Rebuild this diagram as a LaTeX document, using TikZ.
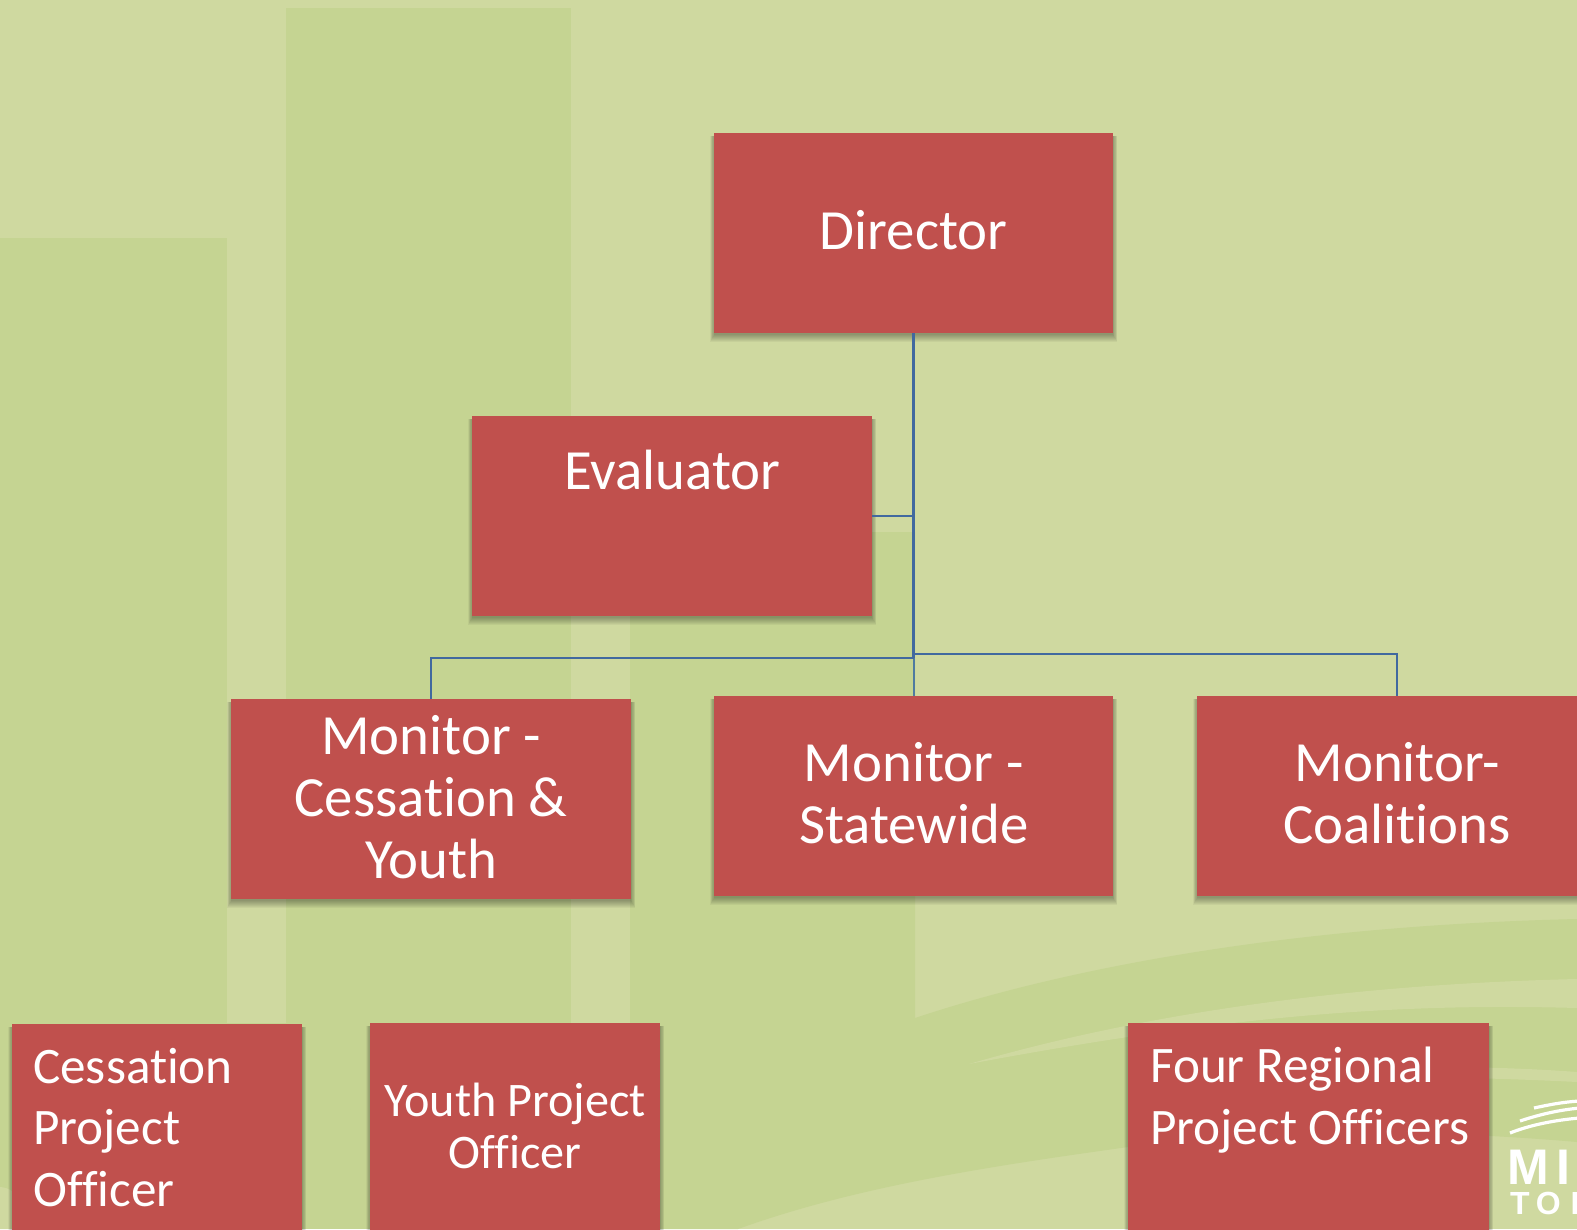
\documentclass[tikz,border=0pt]{standalone}
\usepackage{fontspec}
\setmainfont{Carlito}[Ligatures=NoCommon]
\newfontfamily\logofont{Liberation Sans}[UprightFont=* Bold]
\definecolor{bglight}{HTML}{CFD9A0}
\definecolor{bgdark}{HTML}{C5D492}
\definecolor{boxred}{HTML}{C0504D}
\definecolor{linkblue}{HTML}{41699F}
\definecolor{linkthin}{HTML}{4F7BA0}
\pgfdeclarelayer{backlayer}
\pgfdeclarelayer{shadelayer}
\pgfsetlayers{backlayer,shadelayer,main}
\tikzset{
  boxnode/.style={rectangle,fill=boxred,inner sep=0pt,anchor=north west},
  softlayer/.style={fill=black,fill opacity=0.042,draw=none},
  labelnode/.style={inner sep=0pt,text=white,align=center,font=\fontsize{56.8}{62}\selectfont},
  link/.style={draw=linkblue,line width=2.5pt},
  linkfine/.style={draw=linkthin,line width=1.8pt},
  panel/.style={fill=bgdark,draw=none},
  streak/.style={fill=bglight,draw=none},
  logostroke/.style={draw=white,line width=3.2pt}
}
\begin{document}
\begin{tikzpicture}[x=1pt,y=-1pt]
\useasboundingbox (0,0) rectangle (1577,1229);
\begin{pgfonlayer}{backlayer}
\fill[bglight] (0,0) rectangle (1577,1229);
% background panels
\fill[panel] (0,238) rectangle (227,1229);
\fill[panel] (286,8) rectangle (571,1229);
\fill[panel] (571,1023) rectangle (630,1229);
\fill[panel] (227,1023) rectangle (286,1229);
% third panel merging into the sweeping band
\fill[panel] (630,532) -- (915,532) -- (915,1018) .. controls (1090,960) and (1320,925) .. (1577,919)
  -- (1577,1142) .. controls (1440,1130) and (1280,1128) .. (1128,1147)
  .. controls (1000,1165) and (860,1185) .. (738,1229) -- (630,1229) -- cycle;
\fill[streak] (969,1064) .. controls (1120,1020) and (1320,985) .. (1577,979)
  -- (1577,1008) .. controls (1400,1003) and (1230,1015) .. cycle;
\fill[streak] (1300,1066) .. controls (1400,1066) and (1500,1066) .. (1577,1072)
  -- (1577,1082) .. controls (1500,1078) and (1400,1076) .. (1300,1076) -- cycle;
\fill[streak] (0,1187) .. controls (4,1187) and (9,1189) .. (12,1191) -- (12,1229) -- (0,1229) -- cycle;
\end{pgfonlayer}
% logo
\draw[logostroke] (1510,1133) .. controls (1530,1125) and (1555,1120) .. (1580,1118);
\draw[logostroke] (1520,1121) .. controls (1538,1115) and (1558,1110) .. (1580,1108);
\draw[logostroke] (1534,1108) .. controls (1548,1105) and (1562,1102) .. (1580,1101);
\node[inner sep=0pt,anchor=base west,text=white,font=\logofont\fontsize{50}{50}\selectfont] (logoa) at (1507.5,1184) {M\kern7pt I};
\node[inner sep=0pt,anchor=base west,text=white,font=\logofont\fontsize{32}{32}\selectfont] (logob) at (1510,1214) {T\kern6pt O\kern10pt B};
% boxes
\node[boxnode,minimum width=399pt,minimum height=200pt] (dir) at (714,133) {};
\node[boxnode,minimum width=400pt,minimum height=200pt] (eval) at (472,416) {};
\node[boxnode,minimum width=400pt,minimum height=200pt] (mona) at (231,699) {};
\node[boxnode,minimum width=399pt,minimum height=200pt] (monb) at (714,696) {};
\node[boxnode,minimum width=400pt,minimum height=200pt] (monc) at (1197,696) {};
\node[boxnode,minimum width=290pt,minimum height=230pt] (cess) at (12,1024) {};
\node[boxnode,minimum width=290pt,minimum height=230pt] (yth) at (370,1023) {};
\node[boxnode,minimum width=361pt,minimum height=230pt] (four) at (1128,1023) {};
% soft shadows under the boxes
\begin{pgfonlayer}{shadelayer}
\foreach \n in {dir,eval,mona,monb,monc,cess,yth,four}
  \foreach \i in {1,...,8} {
    \pgfmathsetmacro{\sidegrow}{\i*0.55-0.6}
    \pgfmathsetmacro{\downgrow}{\i*1.1}
    \fill[softlayer] ([xshift=-\sidegrow pt,yshift=-3pt]\n.north west) rectangle ([xshift=\sidegrow pt,yshift=-\downgrow pt]\n.south east);
  }
\end{pgfonlayer}
% box texts
\node[labelnode] (dirt) at ([yshift=3.5pt]dir.center) {Director};
\node[labelnode,anchor=north] (evalt) at ([yshift=-34pt]eval.north) {Evaluator};
\node[labelnode] (monat) at ([yshift=2.5pt]mona.center) {Monitor -\\Cessation \&\\Youth};
\node[labelnode] (monbt) at ([yshift=3pt]monb.center) {Monitor -\\Statewide};
\node[labelnode] (monct) at ([yshift=3pt]monc.center) {Monitor-\\Coalitions};
\node[labelnode,anchor=north west,align=left,font=\fontsize{51.2}{61.3}\selectfont] (cesst) at ([xshift=21pt,yshift=-24pt]cess.north west) {Cessation\\Project\\Officer};
\node[labelnode,anchor=north,font=\fontsize{48.2}{52}\selectfont] (ytht) at ([yshift=-60pt]yth.north) {Youth Project\\Officer};
\node[labelnode,anchor=north west,align=left,font=\fontsize{51.2}{61.3}\selectfont] (fourt) at ([xshift=22pt,yshift=-24pt]four.north west) {Four Regional\\Project Officers};
% connectors
\coordinate (busl) at (dir.south |- 0,658);
\coordinate (busr) at (dir.south |- 0,654);
\draw[linkfine] (busl) -- (monb.north);
\draw[link] (dir.south) -- (busl);
\draw[link] (eval.east) -- (eval.east -| dir.south);
\draw[link] (mona.north) |- (busl);
\draw[link] (monc.north) |- (busr);
\end{tikzpicture}
\end{document}
